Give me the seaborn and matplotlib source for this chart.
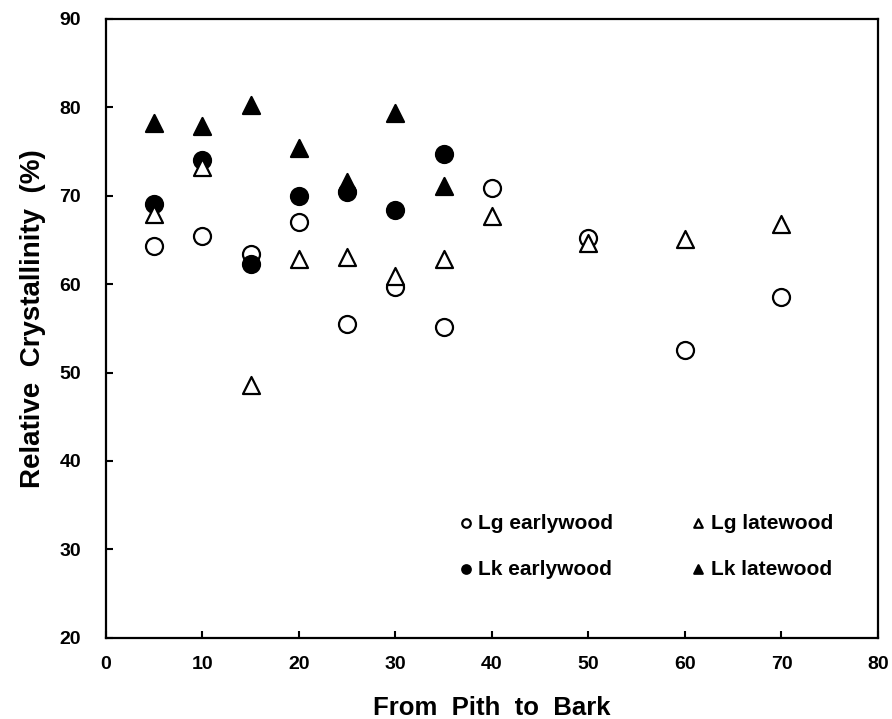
import numpy as np
import pandas as pd
import matplotlib
matplotlib.use('Agg')
import matplotlib.pyplot as plt
import seaborn as sns

# --- data ---
lg_x = [5, 10, 15, 20, 25, 30, 35, 40, 50, 60, 70]
lg_early = [64.3, 65.5, 63.4, 67.0, 55.5, 59.7, 55.2, 70.9, 65.2, 52.5, 58.6]
lg_late = [67.9, 73.2, 48.6, 62.9, 63.1, 60.9, 62.8, 67.7, 64.7, 65.1, 66.8]

lk_x = [5, 10, 15, 20, 25, 30, 35]
lk_early = [69.1, 74.0, 62.3, 70.0, 70.4, 68.4, 74.7]
lk_late = [78.2, 77.9, 80.3, 75.4, 71.5, 79.4, 71.1]

x_ticks = [0, 10, 20, 30, 40, 50, 60, 70, 80]
y_ticks = [20, 30, 40, 50, 60, 70, 80, 90]

sns.set_style('ticks')
plt.rcParams['font.family'] = ['Liberation Sans', 'DejaVu Sans']
plt.rcParams['font.weight'] = 'bold'
for key in ['text.color', 'axes.labelcolor', 'xtick.color', 'ytick.color', 'axes.edgecolor']:
    plt.rcParams[key] = 'black'

fig = plt.figure(figsize=(8.92, 7.19), dpi=100)
ax = fig.add_axes([0.1188, 0.1131, 0.8655, 0.8605])

series = [
    ('Lg earlywood', lg_x, lg_early, 'o', 'white'),
    ('Lk earlywood', lk_x, lk_early, 'o', 'black'),
    ('Lg latewood', lg_x, lg_late, '^', 'white'),
    ('Lk latewood', lk_x, lk_late, '^', 'black'),
]

for name, xs, ys, mk, fc in series:
    df = pd.DataFrame({'x': xs, 'y': ys})
    sns.scatterplot(data=df, x='x', y='y', ax=ax, marker=mk, s=150,
                    facecolor=fc, edgecolor='black', linewidth=1.6,
                    label=name, zorder=3)

ax.set_xlim(0, 80)
ax.set_ylim(20, 90)
ax.set_xticks(x_ticks)
ax.set_yticks(y_ticks)
ax.tick_params(direction='in', length=5, width=1.5, labelsize=14)
ax.tick_params(axis='x', pad=13)
ax.tick_params(axis='y', pad=18)
for lab in ax.get_xticklabels() + ax.get_yticklabels():
    lab.set_fontweight('bold')
for sp in ax.spines.values():
    sp.set_linewidth(1.6)
    sp.set_visible(True)

ax.set_xlabel('From  Pith  to  Bark', fontsize=18.5, fontweight='bold')
ax.set_ylabel('Relative  Crystallinity  (%)', fontsize=20, fontweight='bold')
ax.yaxis.set_label_coords(-0.078, 0.516)
ax.xaxis.set_label_coords(0.5, -0.094)

ax.legend(ncol=2, frameon=False, markerscale=0.5,
          handletextpad=0.1, handlelength=1.0, columnspacing=3.6,
          labelspacing=1.3, loc='lower left', bbox_to_anchor=(0.428, 0.065),
          prop={'weight': 'bold', 'size': 15})

fig.savefig('out.png', dpi=100)
